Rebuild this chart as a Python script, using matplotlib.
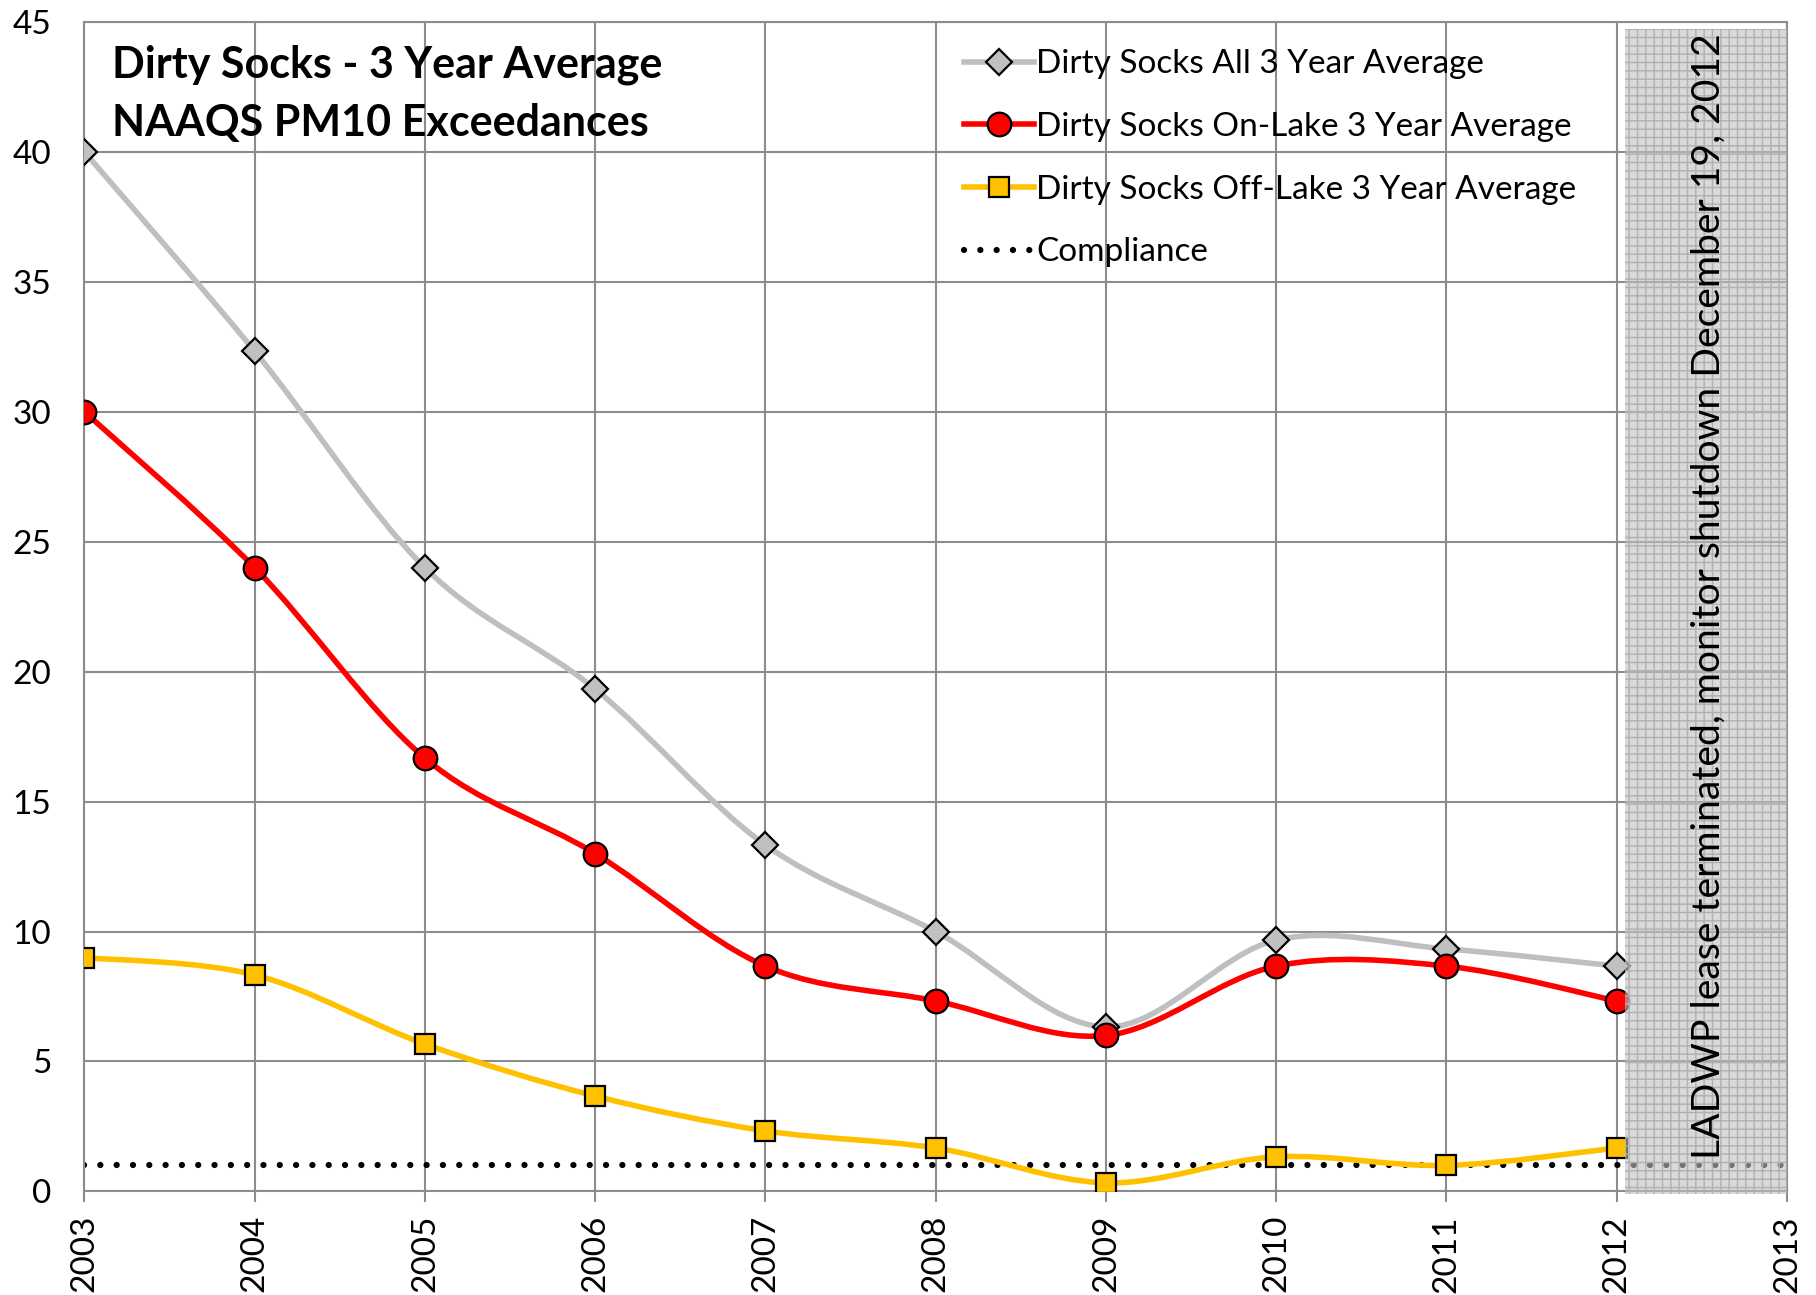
import numpy as np
import matplotlib
matplotlib.use("Agg")
import matplotlib.pyplot as plt
from matplotlib.path import Path
from matplotlib.patches import PathPatch, Rectangle
from matplotlib.lines import Line2D

plt.rcParams['font.family'] = ['Lato', 'DejaVu Sans']

# Data
years = [2003, 2004, 2005, 2006, 2007, 2008, 2009, 2010, 2011, 2012]
all_avg = [40, 32.33, 24, 19.33, 13.33, 10, 6.33, 9.67, 9.33, 8.67]
on_lake = [30, 24, 16.67, 13, 8.67, 7.33, 6, 8.67, 8.67, 7.33]
off_lake = [9, 8.33, 5.67, 3.67, 2.33, 1.67, 0.33, 1.33, 1.0, 1.67]
compliance_years = [2003, 2013]
compliance = [1, 1]
labels = ["Dirty Socks All 3 Year Average",
          "Dirty Socks On-Lake 3 Year Average",
          "Dirty Socks Off-Lake 3 Year Average",
          "Compliance"]
shutdown = [2012.05, 2013]


def smooth_path(xs, ys):
    # Excel-like smoothed line: cubic bezier through the points
    pts = np.column_stack([xs, ys]).astype(float)
    n = len(pts)
    verts = [pts[0]]
    codes = [Path.MOVETO]
    for i in range(n - 1):
        p0 = pts[i - 1] if i > 0 else pts[i]
        p1, p2 = pts[i], pts[i + 1]
        p3 = pts[i + 2] if i + 2 < n else pts[i + 1]
        verts += [p1 + (p2 - p0) / 6, p2 - (p3 - p1) / 6, p2]
        codes += [Path.CURVE4] * 3
    return Path(verts, codes)


fig, ax = plt.subplots(figsize=(18.16, 12.95), dpi=100)
fig.subplots_adjust(left=0.0465, right=0.984, bottom=0.080, top=0.983)

grid_c = '#8c8c8c'
ax.set_xlim(2003, 2013)
ax.set_ylim(0, 45)
ax.set_xticks(range(2003, 2014))
ax.set_yticks(range(0, 46, 5))
ax.grid(True, color=grid_c, lw=1.5)
ax.set_axisbelow(True)
for s in ax.spines.values():
    s.set_color(grid_c)
    s.set_linewidth(1.5)
ax.tick_params(axis='x', length=8, width=1.5, color=grid_c, labelsize=24,
               labelrotation=90, pad=9)
ax.tick_params(axis='y', length=0, labelsize=24, pad=24)

# compliance line
ax.plot(compliance_years, compliance, color='black', lw=4.5,
        ls=(0, (0.01, 2.6)), dash_capstyle='round', zorder=2)

series = [
    (all_avg, '#bfbfbf', 'D', '#c0c0c0', 13),
    (on_lake, '#ff0000', 'o', '#ff0000', 17),
    (off_lake, '#ffc000', 's', '#ffc000', 14),
]
handles = []
for (vals, col, mk, fc, ms), lab in zip(series, labels):
    ax.add_patch(PathPatch(smooth_path(years, vals), fill=False,
                           edgecolor=col, lw=4.0, zorder=3))
    ax.plot(years, vals, ls='none', marker=mk, ms=ms, mfc=fc, mec='black',
            mew=1.6, zorder=4)
    handles.append(Line2D([], [], color=col, lw=4.0, marker=mk, ms=ms,
                          mfc=fc, mec='black', mew=1.6))
handles.append(Line2D([], [], color='black', lw=4.5, ls=(0, (0.01, 2.6)),
                      dash_capstyle='round'))

# shaded shutdown region
ax.add_patch(Rectangle((shutdown[0], -0.1), shutdown[1] - shutdown[0], 44.85,
                       facecolor='#c0c0c0', alpha=0.6, edgecolor='none',
                       zorder=5, clip_on=False))
ax.add_patch(Rectangle((shutdown[0], -0.1), shutdown[1] - shutdown[0], 44.85,
                       facecolor='none', edgecolor='#b0b0b0', hatch='++',
                       lw=0, zorder=5, clip_on=False))
ax.text(2012.54, 22.9,
        "LADWP lease terminated, monitor shutdown December 19, 2012",
        rotation=90, ha='center', va='center', fontsize=28.2, zorder=6)

# title inside plot
ax.text(2003.16, 43.35, "Dirty Socks - 3 Year Average", fontsize=31,
        fontweight='bold', va='center', ha='left')
ax.text(2003.16, 41.1, "NAAQS PM10 Exceedances", fontsize=31,
        fontweight='bold', va='center', ha='left')

ax.legend(handles, labels, loc='upper left', bbox_to_anchor=(0.509, 0.988),
          frameon=False, fontsize=24, handlelength=2.1, handletextpad=0.05,
          labelspacing=0.98, borderaxespad=0)

fig.savefig('out.png', dpi=100)
